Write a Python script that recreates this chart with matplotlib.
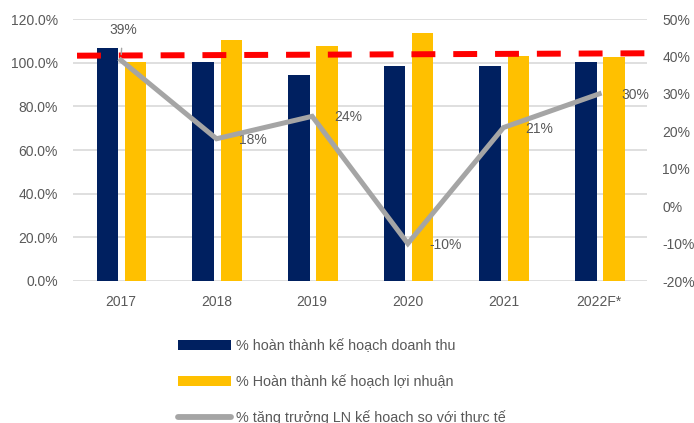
import matplotlib
matplotlib.use("Agg")
import matplotlib.pyplot as plt
from matplotlib.patches import Patch
from matplotlib.lines import Line2D
import numpy as np

plt.rcParams['font.family'] = ['Liberation Sans', 'DejaVu Sans']

years = ["2017", "2018", "2019", "2020", "2021", "2022F*"]
revenue_completion = [106.6, 100.2, 94.2, 98.6, 98.3, 100.5]
profit_completion = [100.3, 110.5, 107.5, 113.7, 103.1, 102.5]
profit_growth = [39, 18, 24, -10, 21, 30]
growth_labels = ["39%", "18%", "24%", "-10%", "21%", "30%"]
target_line = [103.2, 104.3]  # red dashed reference line (left axis), start/end

left_ticks = [0, 20, 40, 60, 80, 100, 120]
right_ticks = [-20, -10, 0, 10, 20, 30, 40, 50]

NAVY = "#002060"
YELLOW = "#FFC000"
GRAY = "#A5A5A5"
RED = "#FF0000"
TXT = "#595959"
GRID = "#D9D9D9"

fig = plt.figure(figsize=(6.94, 4.23), dpi=100)
ax = fig.add_axes([73/694, 1-281/423, (647-73)/694, (281-19)/423])
x = np.arange(len(years))
w = 0.225
ax.bar(x - 0.14, revenue_completion, w, color=NAVY, zorder=2)
ax.bar(x + 0.155, profit_completion, w, color=YELLOW, zorder=2)
ax.set_xlim(-0.5, len(years) - 0.5)
ax.set_ylim(0, 120)
ax.set_yticks(left_ticks)
ax.set_yticklabels([f"{v:.1f}%" for v in left_ticks])
ax.yaxis.grid(True, color=GRID, lw=1.2, zorder=0)
ax.set_axisbelow(True)
ax.set_xticks(x)
ax.set_xticklabels(years)
for s in ax.spines.values():
    s.set_visible(False)
ax.tick_params(axis='both', length=0, colors=TXT, labelsize=10)
ax.tick_params(axis='y', pad=11)
ax.tick_params(axis='x', pad=10)

ax2 = ax.twinx()
ax2.set_ylim(-20, 50)
ax2.set_yticks(right_ticks)
ax2.set_yticklabels([f"{v}%" for v in right_ticks])
for s in ax2.spines.values():
    s.set_visible(False)
ax2.tick_params(axis='y', length=0, colors=TXT, labelsize=10, pad=11)

# red dashed line on left-axis scale
xs_red = [-0.458, 5.5]
ax2.plot(xs_red, target_line, color=RED, lw=4.3, dashes=(4, 3),
         solid_capstyle='butt', dash_capstyle='butt', transform=ax.transData, zorder=3)

ax2.plot(x, profit_growth, color=GRAY, lw=3.6, solid_joinstyle='miter', zorder=4)

for i, (v, lab) in enumerate(zip(profit_growth, growth_labels)):
    if i == 0:
        ax2.annotate(lab, xy=(x[i], v), xytext=(2, 30), textcoords='offset pixels',
                     ha='center', va='center', fontsize=10, color=TXT,
                     arrowprops=dict(arrowstyle='-', color=GRAY, lw=1, shrinkA=6, shrinkB=4))
    else:
        ax2.annotate(lab, xy=(x[i], v), xytext=(22, -1), textcoords='offset pixels',
                     ha='left', va='center', fontsize=10, color=TXT)

handles = [Patch(facecolor=NAVY, edgecolor='none'),
           Patch(facecolor=YELLOW, edgecolor='none'),
           Line2D([0], [0], color=GRAY, lw=4.2, solid_capstyle='round')]
labels = ["% hoàn thành kế hoạch doanh thu",
          "% Hoàn thành kế hoạch lợi nhuận",
          "% tăng trưởng LN kế hoạch so với thực tế"]
leg = fig.legend(handles, labels, loc='upper left', bbox_to_anchor=(178/694, 1-339/423),
                 frameon=False, fontsize=10.4, handlelength=3.7, handleheight=0.7,
                 handletextpad=0.35, labelspacing=1.5, borderpad=0, borderaxespad=0)
for t in leg.get_texts():
    t.set_color(TXT)

fig.savefig("out.png", dpi=100)
